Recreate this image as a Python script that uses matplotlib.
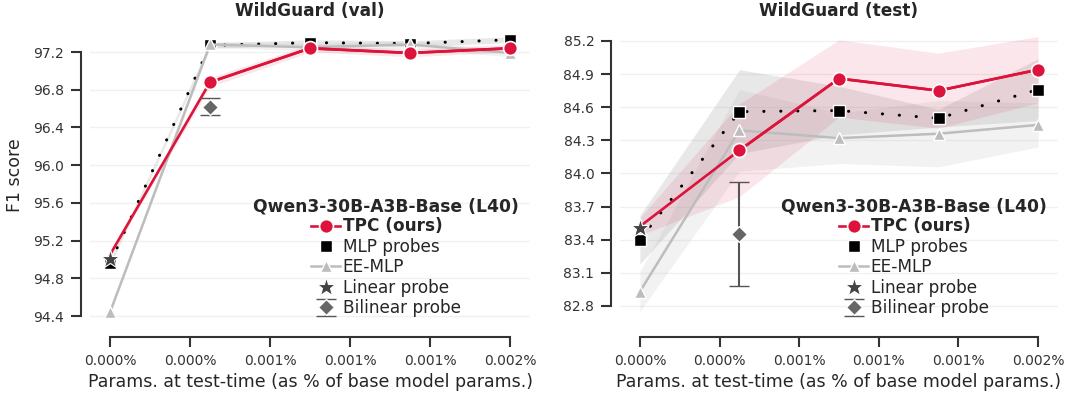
import numpy as np
import matplotlib
matplotlib.use("Agg")
import matplotlib.pyplot as plt

# ---------------- data ----------------
x_pct = [0.0001, 0.0005, 0.0009, 0.0013, 0.0017]   # params at test-time (% of base)

panel_titles = ["WildGuard (val)", "WildGuard (test)"]

tpc_val = [95.05, 96.88, 97.24, 97.19, 97.24]
tpc_val_sd = [0.02, 0.05, 0.04, 0.04, 0.04]
mlp_val = [94.96, 97.27, 97.30, 97.29, 97.33]
mlp_val_sd = [0.03, 0.03, 0.03, 0.03, 0.03]
ee_val = [94.44, 97.28, 97.25, 97.28, 97.19]
ee_val_sd = [0.02, 0.03, 0.04, 0.04, 0.04]
linear_val = 95.00
bilinear_val = 96.62
bilinear_val_sd = 0.09

tpc_test = [83.52, 84.21, 84.86, 84.75, 84.94]
tpc_test_sd = [0.08, 0.42, 0.35, 0.34, 0.30]
mlp_test = [83.40, 84.56, 84.57, 84.50, 84.76]
mlp_test_sd = [0.22, 0.38, 0.22, 0.08, 0.28]
ee_test = [82.93, 84.39, 84.32, 84.36, 84.44]
ee_test_sd = [0.18, 0.37, 0.23, 0.30, 0.20]
linear_test = 83.51
bilinear_test = 83.45
bilinear_test_sd = 0.47

yticks_val = [94.4, 94.8, 95.2, 95.6, 96.0, 96.4, 96.8, 97.2]
yticks_test = [82.8, 83.1, 83.4, 83.7, 84.0, 84.3, 84.6, 84.9, 85.2]
ylim_val = (94.273, 97.508)
ylim_test = (82.60, 85.363)

legend_title = "Qwen3-30B-A3B-Base (L40)"
labels = ["TPC (ours)", "MLP probes", "EE-MLP", "Linear probe", "Bilinear probe"]
xlabel = "Params. at test-time (as % of base model params.)"
ylabel = "F1 score"

# ---------------- style ----------------
RED = "#DC143C"
EE_GRAY = "#BDBDBD"
TXT = "#262626"
plt.rcParams["font.family"] = ["DejaVu Sans"]
plt.rcParams["text.color"] = TXT
plt.rcParams["axes.labelcolor"] = TXT
plt.rcParams["xtick.color"] = "#333333"
plt.rcParams["ytick.color"] = "#333333"

fig = plt.figure(figsize=(10.8, 3.96), dpi=100)
W, H = 1080, 396
ax_l = fig.add_axes([90 / W, 1 - 328 / H, 440 / W, 305 / H])
ax_r = fig.add_axes([620 / W, 1 - 328 / H, 438 / W, 305 / H])

panels = [
    (ax_l, tpc_val, tpc_val_sd, mlp_val, mlp_val_sd, ee_val, ee_val_sd,
     linear_val, bilinear_val, bilinear_val_sd, yticks_val, ylim_val),
    (ax_r, tpc_test, tpc_test_sd, mlp_test, mlp_test_sd, ee_test, ee_test_sd,
     linear_test, bilinear_test, bilinear_test_sd, yticks_test, ylim_test),
]

x = np.array(x_pct)
xticks = np.linspace(x.min(), x.max(), 6)

for i, (ax, tpc, tpc_sd, mlp, mlp_sd, ee, ee_sd, lin, bil, bil_sd, yt, yl) in enumerate(panels):
    tpc, tpc_sd = np.array(tpc), np.array(tpc_sd)
    mlp, mlp_sd = np.array(mlp), np.array(mlp_sd)
    ee, ee_sd = np.array(ee), np.array(ee_sd)

    for yv in yt:
        ax.axhline(yv, color="#f0f0f0", lw=1.0, zorder=0)

    # bands
    ax.fill_between(x, ee - ee_sd, ee + ee_sd, color="#cccccc", alpha=0.25, lw=0, zorder=1)
    ax.fill_between(x, mlp - mlp_sd, mlp + mlp_sd, color="#999999", alpha=0.22, lw=0, zorder=1)
    ax.fill_between(x, tpc - tpc_sd, tpc + tpc_sd, color=RED, alpha=0.10, lw=0, zorder=1)

    # MLP probes: dotted line + squares
    ax.plot(x, mlp, color="black", lw=2.2, ls=(0, (0.05, 5.5)), dash_capstyle="round", zorder=3)
    h_mlp, = ax.plot(x, mlp, ls="none", marker="s", ms=8.5, color="black",
                     mec="white", mew=1.0, zorder=4, label=labels[1])
    # EE-MLP
    h_ee, = ax.plot(x, ee, color=EE_GRAY, lw=1.8, marker="^", ms=8.5,
                    mfc=EE_GRAY, mec="white", mew=1.0, zorder=5, label=labels[2])
    # TPC
    ax.plot(x, tpc, color=RED, lw=1.9, zorder=6)
    h_tpc, = ax.plot(x[1:], tpc[1:], color=RED, lw=1.9, marker="o", ms=10,
                     mec="white", mew=1.2, zorder=7, label=labels[0])
    # Linear probe
    h_lin, = ax.plot([x[0]], [lin], ls="none", marker="*", ms=14, color="#444444",
                     mec="white", mew=0.8, zorder=8, label=labels[3])
    # Bilinear probe
    h_bil = ax.errorbar([x[1]], [bil], yerr=[bil_sd], fmt="D", ms=8.5, color="#666666",
                        mec="white", mew=1.0, ecolor="#555555", elinewidth=1.5,
                        capsize=7, capthick=1.5, zorder=8, label=labels[4])

    ax.set_ylim(*yl)
    ax.set_yticks(yt)
    ax.set_yticklabels([f"{v:.1f}" for v in yt], fontsize=12.3)
    ax.set_xticks(xticks)
    ax.set_xticklabels([f"{v:.3f}%" for v in xticks], fontsize=12)
    ax.margins(x=0.05)

    for s in ["top", "right"]:
        ax.spines[s].set_visible(False)
    ax.spines["left"].set_position(("outward", 6.5))
    ax.spines["bottom"].set_position(("outward", 6.5))
    ax.spines["left"].set_bounds(yt[0], yt[-1])
    ax.spines["bottom"].set_bounds(xticks[0], xticks[-1])
    for s in ["left", "bottom"]:
        ax.spines[s].set_color("#333333")
        ax.spines[s].set_linewidth(1.5)
    ax.tick_params(axis="both", length=7, width=1.5, pad=5)

    ax.set_title(panel_titles[i], fontsize=12.2, fontweight="bold", pad=5)
    ax.set_xlabel(xlabel, fontsize=12.5, labelpad=4)
    if i == 0:
        ax.set_ylabel(ylabel, fontsize=12.5, labelpad=7)

    leg = ax.legend(handles=[h_tpc, h_mlp, h_ee, h_lin, h_bil],
                    labels=labels, loc="lower right", frameon=False,
                    fontsize=12.2, title=legend_title,
                    title_fontproperties={"weight": "bold", "size": 12.3},
                    labelspacing=0.14, handlelength=1.7, handletextpad=0.15,
                    borderaxespad=0.45, borderpad=0.2)
    leg.get_texts()[0].set_fontweight("bold")

fig.savefig("out.png", dpi=100)
